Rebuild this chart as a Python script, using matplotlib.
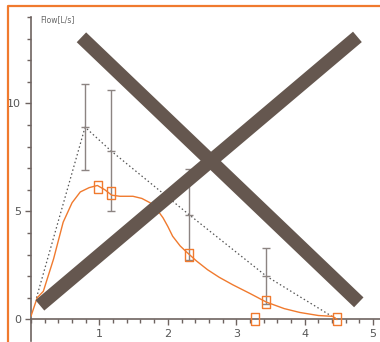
import matplotlib
matplotlib.use("Agg")
import matplotlib.pyplot as plt
from matplotlib.lines import Line2D
from matplotlib.ticker import MultipleLocator, FixedLocator
import numpy as np

# measured flow (dotted, with error bars)
mean_t = [0.08, 0.79, 1.17, 2.31, 3.44, 4.47]
mean_q = [1.0, 8.9, 7.8, 4.85, 2.0, 0.0]
err_t = [0.79, 1.17, 2.31, 3.44]
err_q = [8.9, 7.8, 4.85, 2.0]
err_sd = [2.0, 2.8, 2.1, 1.3]

# simulated flow curve (orange)
curve_t = [0, 0.09, 0.18, 0.33, 0.47, 0.6, 0.72, 0.85, 0.97, 1.08, 1.18, 1.3, 1.49,
           1.62, 1.74, 1.85, 1.93, 2.0, 2.07, 2.18, 2.28, 2.42, 2.58, 2.75, 2.95,
           3.2, 3.44, 3.7, 3.93, 4.2, 4.41, 4.47]
curve_q = [0.15, 1.0, 1.3, 2.8, 4.5, 5.4, 5.9, 6.1, 6.2, 6.0, 5.75, 5.7, 5.7,
           5.6, 5.4, 5.05, 4.7, 4.3, 3.85, 3.4, 3.1, 2.7, 2.3, 1.95, 1.6,
           1.2, 0.8, 0.5, 0.32, 0.18, 0.14, 0.0]

# square markers
sq_t = [0.98, 1.17, 2.31, 3.27, 3.44, 4.47]
sq_q = [6.15, 5.85, 2.96, 0.0, 0.8, 0.0]

orange = "#f07a2e"
axcol = "#6e6360"
xcol = "#65574f"

W, H = 380, 342
fig = plt.figure(figsize=(W / 100, H / 100), dpi=100)
ax = fig.add_axes([31 / W, 1 / H, 349 / W, 324 / H])
ax.set_xlim(0, 5.1)
ax.set_ylim(-1, 14)

for s in ["top", "right"]:
    ax.spines[s].set_visible(False)
ax.spines["left"].set_position(("data", 0))
ax.spines["bottom"].set_position(("data", 0))
for s in ["left", "bottom"]:
    ax.spines[s].set_color(axcol)
    ax.spines[s].set_linewidth(1.2)

ax.set_xticks([1, 2, 3, 4, 5])
ax.xaxis.set_minor_locator(MultipleLocator(0.2))
ax.set_yticks([0, 5, 10])
ax.yaxis.set_minor_locator(FixedLocator([1, 2, 3, 4, 6, 7, 8, 9, 11, 12, 13, 14]))
ax.tick_params(which="major", length=4, width=1, color=axcol, labelcolor="#555555",
               labelsize=8)
ax.tick_params(which="minor", length=3, width=1, color=axcol)
ax.tick_params(axis="x", pad=3)
ax.tick_params(axis="y", pad=3)

rect = np.array([(-0.7, -1), (0.7, -1), (0.7, 1), (-0.7, 1), (-0.7, -1)])

ax.plot(mean_t, mean_q, ls=(0, (1.2, 2)), color="#555555", lw=0.9, zorder=2)
ax.errorbar(err_t, err_q, yerr=err_sd, fmt="_", color="#8c8482", ecolor="#8c8482",
            elinewidth=1, capsize=3, capthick=1, ms=6, zorder=2)
ax.plot(curve_t, curve_q, color=orange, lw=1, zorder=3)
ax.plot(sq_t, sq_q, ls="none", marker=rect, ms=9, mfc="none", mec=orange,
        mew=1, zorder=4, clip_on=False)

ax.text(40 / W, 1 - 20 / H, "Flow[L/s]", transform=fig.transFigure, fontsize=5.5,
        color="#666666", va="center")

# big X overlay
ax.plot([0.737, 4.79], [13.06, 0.79], color=xcol, lw=9.8, solid_capstyle="butt",
        zorder=5, clip_on=False)
ax.plot([0.13, 4.77], [0.65, 13.08], color=xcol, lw=9.8, solid_capstyle="butt",
        zorder=5, clip_on=False)

# orange frame
fig.add_artist(Line2D([8 / W, 8 / W, 1], [0, 1 - 6 / H, 1 - 6 / H],
                      transform=fig.transFigure, color=orange, lw=1.6))

fig.savefig("out.png", dpi=100)
